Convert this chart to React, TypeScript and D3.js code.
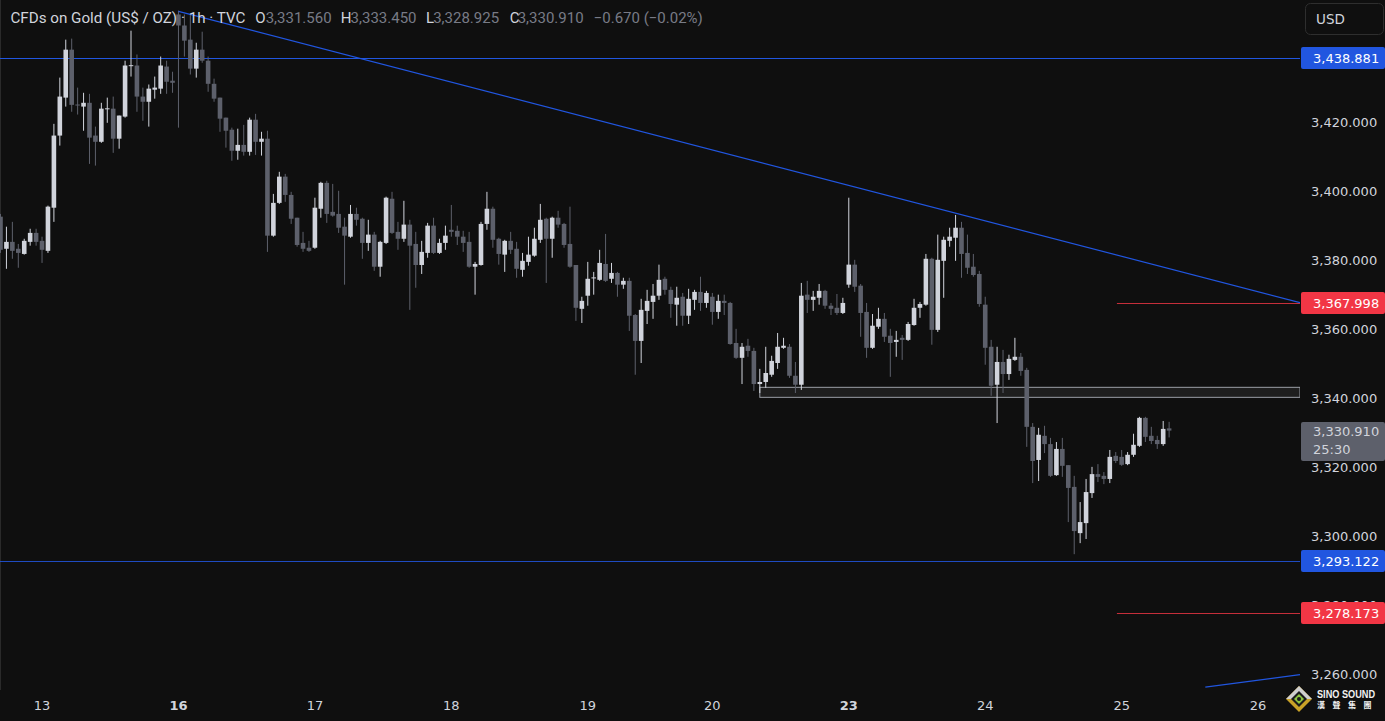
import * as React from "react";
import * as d3 from "d3";

// hourly candles, XAUUSD (TVC), 12 Jun -> 25 Jun
const opens = [
  3392.9, 3383.6, 3385.6, 3383.6, 3382.1, 3385.6, 3388.2, 3385.9, 3383.0, 3395.5,
  3416.4, 3427.4, 3441.3, 3425.4, 3424.8, 3425.9, 3416.4, 3414.6, 3424.2, 3424.2,
  3415.5, 3421.9, 3436.7, 3436.7, 3427.7, 3426.2, 3429.7, 3430.0, 3436.4, 3432.3,
  3451.5, 3448.3, 3444.2, 3435.8, 3441.3, 3438.1, 3431.4, 3427.4, 3421.6, 3418.1,
  3412.0, 3413.7, 3411.7, 3421.0, 3414.6, 3415.5, 3387.4, 3396.9, 3404.5, 3399.2,
  3392.6, 3385.3, 3383.9, 3383.9, 3395.2, 3402.7, 3394.3, 3393.7, 3390.0, 3387.1,
  3393.7, 3392.3, 3385.3, 3387.7, 3378.4, 3385.3, 3398.1, 3388.5, 3386.5, 3390.6,
  3385.0, 3378.9, 3382.4, 3390.3, 3382.4, 3385.3, 3389.1, 3388.8, 3387.1, 3385.6,
  3378.4, 3378.9, 3390.8, 3395.2, 3386.5, 3381.9, 3385.9, 3383.6, 3377.5, 3379.8,
  3381.6, 3386.2, 3392.3, 3386.5, 3392.6, 3390.8, 3385.0, 3378.9, 3366.2, 3370.0,
  3375.2, 3374.6, 3379.2, 3374.9, 3376.6, 3373.2, 3374.3, 3364.4, 3356.9, 3365.6,
  3368.2, 3370.0, 3374.9, 3371.7, 3367.4, 3369.7, 3364.2, 3368.8, 3371.1, 3367.9,
  3369.7, 3365.3, 3368.5, 3367.9, 3356.3, 3352.0, 3355.5, 3354.0, 3344.4, 3345.0,
  3347.1, 3350.5, 3354.9, 3355.2, 3346.8, 3344.2, 3370.3, 3368.8, 3369.4, 3371.4,
  3367.1, 3366.5, 3365.0, 3373.2, 3379.0, 3372.9, 3365.3, 3354.9, 3361.0, 3363.3,
  3358.4, 3356.6, 3357.8, 3357.2, 3361.5, 3366.5, 3367.4, 3380.7, 3360.1, 3380.1,
  3385.9, 3386.8, 3389.7, 3382.4, 3378.4, 3376.3, 3367.4, 3355.2, 3344.2, 3350.8,
  3347.3, 3351.4, 3352.3, 3348.5, 3332.0, 3322.4, 3329.4, 3327.0, 3318.0, 3325.6,
  3320.9, 3314.6, 3301.2, 3304.1, 3312.8, 3318.3, 3317.8, 3316.9, 3323.6, 3323.3,
  3321.2, 3323.9, 3326.5, 3334.6, 3329.4, 3328.2, 3327.0, 3331.56,
];

const highs = [
  3393.7, 3390.0, 3391.4, 3385.0, 3386.5, 3389.4, 3389.4, 3387.1, 3396.1, 3419.8,
  3433.2, 3444.2, 3444.5, 3430.3, 3428.8, 3428.5, 3419.0, 3425.9, 3427.4, 3427.7,
  3422.2, 3438.1, 3446.8, 3439.9, 3430.3, 3431.2, 3433.5, 3439.3, 3438.1, 3434.9,
  3452.6, 3451.5, 3451.5, 3443.3, 3446.5, 3439.3, 3432.9, 3427.4, 3421.6, 3418.7,
  3418.4, 3419.5, 3421.6, 3422.7, 3417.5, 3417.8, 3399.5, 3405.9, 3405.3, 3400.1,
  3392.6, 3388.5, 3385.9, 3398.4, 3403.0, 3403.3, 3402.4, 3400.4, 3392.6, 3396.3,
  3395.5, 3392.6, 3392.0, 3388.5, 3385.9, 3398.7, 3400.1, 3391.4, 3397.5, 3392.0,
  3388.5, 3385.9, 3391.1, 3392.6, 3386.5, 3390.3, 3396.3, 3390.3, 3388.8, 3388.5,
  3379.8, 3391.4, 3400.1, 3395.8, 3386.8, 3386.2, 3388.5, 3385.6, 3382.4, 3387.1,
  3389.7, 3396.6, 3392.6, 3392.9, 3394.6, 3391.1, 3395.8, 3378.9, 3369.7, 3379.8,
  3376.9, 3383.3, 3387.9, 3379.5, 3376.9, 3375.2, 3375.2, 3364.7, 3369.1, 3371.7,
  3373.4, 3379.0, 3375.5, 3372.6, 3372.6, 3370.8, 3372.0, 3371.7, 3375.5, 3371.4,
  3370.8, 3370.3, 3370.3, 3368.2, 3360.4, 3356.3, 3357.5, 3354.9, 3348.8, 3355.2,
  3352.6, 3359.2, 3357.8, 3356.0, 3350.8, 3373.7, 3374.3, 3371.4, 3373.4, 3371.7,
  3367.9, 3370.5, 3369.4, 3398.4, 3380.4, 3373.4, 3367.9, 3364.7, 3366.5, 3365.0,
  3360.4, 3359.8, 3358.6, 3362.4, 3369.1, 3368.2, 3382.1, 3381.0, 3387.7, 3387.1,
  3389.7, 3393.4, 3391.4, 3387.7, 3382.1, 3377.2, 3369.7, 3357.2, 3355.2, 3354.3,
  3352.9, 3357.8, 3353.4, 3349.1, 3333.1, 3331.7, 3332.3, 3328.8, 3327.6, 3328.8,
  3320.9, 3317.8, 3310.2, 3316.9, 3320.4, 3321.2, 3318.9, 3325.3, 3324.7, 3325.3,
  3324.7, 3330.0, 3334.9, 3334.9, 3332.0, 3329.4, 3333.7, 3333.45,
];

const lows = [
  3382.4, 3377.8, 3380.7, 3378.1, 3381.9, 3384.5, 3384.5, 3379.5, 3382.4, 3391.4,
  3413.5, 3424.8, 3423.3, 3422.5, 3417.8, 3408.2, 3407.7, 3414.3, 3420.1, 3411.4,
  3412.6, 3421.6, 3433.5, 3423.3, 3420.7, 3419.0, 3427.1, 3428.5, 3428.5, 3428.8,
  3418.7, 3439.3, 3434.1, 3433.2, 3437.5, 3429.1, 3426.2, 3417.5, 3412.9, 3409.1,
  3409.4, 3410.6, 3410.6, 3410.8, 3410.6, 3382.7, 3387.1, 3396.6, 3397.2, 3390.8,
  3384.2, 3382.7, 3382.7, 3383.6, 3392.6, 3391.1, 3392.9, 3388.2, 3373.2, 3386.8,
  3390.3, 3380.7, 3383.0, 3377.2, 3375.5, 3385.0, 3387.9, 3383.3, 3385.6, 3365.9,
  3372.3, 3376.3, 3381.0, 3382.1, 3382.1, 3383.3, 3387.1, 3384.7, 3382.7, 3378.1,
  3370.3, 3378.7, 3389.1, 3383.9, 3379.0, 3376.9, 3382.1, 3375.2, 3375.5, 3378.7,
  3381.3, 3385.3, 3373.7, 3381.0, 3389.7, 3383.9, 3378.1, 3362.7, 3362.1, 3367.1,
  3370.3, 3374.3, 3374.0, 3373.7, 3369.7, 3372.0, 3359.8, 3347.1, 3350.5, 3361.8,
  3363.3, 3368.8, 3370.3, 3363.6, 3361.3, 3361.3, 3361.8, 3365.9, 3365.6, 3366.5,
  3361.6, 3363.3, 3364.4, 3355.8, 3351.7, 3344.4, 3352.3, 3342.4, 3341.8, 3343.3,
  3346.5, 3348.8, 3354.6, 3346.2, 3341.8, 3342.7, 3365.0, 3365.6, 3367.4, 3366.2,
  3364.4, 3364.4, 3364.7, 3372.3, 3371.1, 3358.1, 3352.0, 3354.6, 3360.4, 3356.6,
  3346.5, 3352.3, 3351.4, 3356.9, 3361.3, 3363.6, 3367.1, 3355.8, 3359.5, 3369.4,
  3384.2, 3380.1, 3375.2, 3376.3, 3375.5, 3366.8, 3350.0, 3341.0, 3333.1, 3341.8,
  3345.6, 3351.1, 3346.8, 3326.2, 3315.7, 3316.3, 3324.4, 3317.5, 3317.8, 3317.5,
  3304.4, 3295.1, 3298.3, 3299.5, 3311.4, 3316.0, 3315.4, 3315.7, 3321.5, 3320.7,
  3320.9, 3323.3, 3326.2, 3327.6, 3327.0, 3325.6, 3326.5, 3328.925,
];

const closes = [
  3383.3, 3385.6, 3383.0, 3382.4, 3385.9, 3388.2, 3385.6, 3383.3, 3395.8, 3416.4,
  3427.7, 3441.3, 3425.3, 3425.2, 3425.9, 3415.8, 3414.6, 3424.2, 3424.3, 3415.5,
  3422.2, 3436.7, 3436.8, 3427.7, 3426.2, 3430.0, 3430.3, 3436.7, 3432.0, 3431.7,
  3448.3, 3443.9, 3435.8, 3441.3, 3438.1, 3431.4, 3427.1, 3421.3, 3417.8, 3412.0,
  3413.7, 3411.7, 3421.0, 3414.6, 3415.5, 3387.4, 3396.9, 3404.5, 3399.2, 3392.3,
  3384.7, 3383.6, 3383.0, 3395.5, 3402.7, 3393.7, 3393.2, 3389.7, 3387.4, 3393.7,
  3392.0, 3385.3, 3387.7, 3378.4, 3385.6, 3398.4, 3388.2, 3386.5, 3390.6, 3384.5,
  3378.9, 3382.7, 3390.3, 3382.4, 3385.3, 3387.4, 3388.5, 3387.1, 3385.3, 3378.4,
  3379.2, 3390.8, 3395.2, 3386.2, 3382.1, 3385.9, 3383.3, 3377.8, 3380.1, 3381.9,
  3386.5, 3392.0, 3386.5, 3392.6, 3390.6, 3384.7, 3378.4, 3366.5, 3368.5, 3374.9,
  3375.3, 3379.5, 3374.3, 3376.6, 3373.2, 3374.3, 3364.2, 3356.9, 3365.9, 3368.5,
  3370.0, 3374.6, 3371.7, 3367.6, 3369.4, 3364.2, 3369.1, 3371.1, 3367.9, 3370.8,
  3365.3, 3368.5, 3367.9, 3356.0, 3352.0, 3355.2, 3354.0, 3344.4, 3345.0, 3347.6,
  3351.1, 3355.2, 3355.5, 3346.8, 3344.2, 3370.0, 3368.8, 3369.7, 3371.4, 3367.1,
  3366.2, 3365.0, 3367.9, 3379.0, 3372.6, 3365.0, 3354.9, 3361.3, 3363.3, 3358.1,
  3356.3, 3357.2, 3357.2, 3361.8, 3366.5, 3367.6, 3380.7, 3360.1, 3380.4, 3386.2,
  3387.1, 3389.7, 3382.1, 3378.1, 3376.0, 3367.6, 3354.9, 3343.9, 3350.8, 3347.3,
  3351.7, 3352.3, 3348.2, 3332.0, 3322.1, 3329.7, 3327.0, 3317.8, 3325.6, 3320.7,
  3314.3, 3301.8, 3304.4, 3313.1, 3318.3, 3317.5, 3316.9, 3323.3, 3322.1, 3321.0,
  3323.9, 3326.8, 3334.6, 3329.1, 3327.9, 3327.0, 3331.4, 3330.91,
];

// bar index where each session starts, and its label
const dayStarts = [7, 30, 53, 76, 99, 120, 143, 166, 189, 212];
const dayLabels = ["13", "16", "17", "18", "19", "20", "23", "24", "25", "26"];
const boldDays = ["16", "23"];

const priceTicks = [3260, 3280, 3300, 3320, 3340, 3360, 3380, 3400, 3420];

// drawings
const resistance = 3438.881;
const support = 3293.122;
const rayLevels = [3367.998, 3278.173];
const rayStart = 188.2;
const zoneTop = 3343.45;
const zoneBottom = 3340.55;
const zoneStart = 128;
const trendA = [[30, 3452.4], [219.06, 3368.0]];
const trendB = [[203.1, 3256.6], [219.06, 3260.2]];

const lastPrice = 3330.91;
const countdown = "25:30";

const W = 1385;
const H = 721;
const PANE_R = 1300;

const UP = "#d1d4dc";
const DOWN = "#5d606b";
const BLUE = "#2156e0";
const RED = "#f23645";
const TXT = "#d1d4dc";
const AXIS_FONT = "'DejaVu Sans', sans-serif";
const HEAD_FONT = "Roboto, 'Noto Sans', sans-serif";

const fmt = d3.format(",.3f");

const App: React.FC = () => {
  const x = d3.scaleLinear().domain([0, 212]).range([0.5, 1258.1]);
  const y = d3.scaleLinear().domain([resistance, support]).range([58, 561]);

  const candles = opens.map((o, i) => ({ o, h: highs[i], l: lows[i], c: closes[i], i }));

  const priceBox = (p: number, fill: string, key: string) => {
    const cy = Math.round(y(p));
    return (
      <g key={key}>
        <rect x={1301} y={cy - 11} width={84} height={22} rx={2} fill={fill} />
        <text x={1313} y={cy + 4.5} fill="#ffffff" fontSize={13} fontFamily={AXIS_FONT}>
          {fmt(p)}
        </text>
      </g>
    );
  };

  const trendPath = (pts: number[][]) =>
    d3.line()(pts.map(([i, p]) => [x(i), y(p)] as [number, number])) || "";

  return (
    <svg
      width={W}
      height={H}
      style={{ position: "absolute", left: 0, top: 0, display: "block" }}
    >
      <defs>
        <clipPath id="pane">
          <rect x={0} y={0} width={PANE_R} height={H} />
        </clipPath>
      </defs>
      <rect width={W} height={H} fill="#0f0f0f" />
      <line x1={0.5} x2={0.5} y1={0} y2={690} stroke="#2a2a2a" />

      <g clipPath="url(#pane)">
        {/* zone rectangle */}
        <rect
          x={x(zoneStart)}
          y={y(zoneTop)}
          width={PANE_R - x(zoneStart)}
          height={y(zoneBottom) - y(zoneTop)}
          fill="#1e1e1e"
          stroke="#9b9ea6"
          strokeWidth={1}
        />

        {/* level lines */}
        <line x1={0} x2={PANE_R} y1={Math.round(y(resistance)) + 0.5} y2={Math.round(y(resistance)) + 0.5} stroke={BLUE} />
        <line x1={0} x2={PANE_R} y1={Math.round(y(support)) + 0.5} y2={Math.round(y(support)) + 0.5} stroke={BLUE} strokeOpacity={0.85} />
        {rayLevels.map((p) => (
          <line
            key={p}
            x1={x(rayStart)}
            x2={PANE_R}
            y1={Math.round(y(p)) + 0.5}
            y2={Math.round(y(p)) + 0.5}
            stroke={RED}
            strokeOpacity={0.8}
          />
        ))}

        {/* candles */}
        {candles.map((d) => {
          const cx = x(d.i);
          const col = d.c >= d.o ? UP : DOWN;
          const top = y(Math.max(d.o, d.c));
          const bot = y(Math.min(d.o, d.c));
          return (
            <g key={d.i} fill={col}>
              <rect x={cx - 0.5} y={y(d.h)} width={1} height={y(d.l) - y(d.h)} />
              <rect x={cx - 2.3} y={top} width={4.6} height={Math.max(1, bot - top)} />
            </g>
          );
        })}

        {/* trend lines */}
        <path d={trendPath(trendA)} stroke={BLUE} strokeWidth={1.2} fill="none" />
        <path d={trendPath(trendB)} stroke={BLUE} strokeWidth={1.2} fill="none" />
      </g>

      {/* legend */}
      <g fontFamily={HEAD_FONT} fontSize={15}>
        <text x={10.4} y={23} fill={TXT} fontSize={15.2}>CFDs on Gold (US$ / OZ) · 1h · TVC</text>
        <text x={255.3} y={23} fill={TXT}>O</text>
        <text x={265.7} y={23} fill="#787b86">{fmt(opens[opens.length - 1])}</text>
        <text x={340.7} y={23} fill={TXT}>H</text>
        <text x={350.6} y={23} fill="#787b86">{fmt(highs[highs.length - 1])}</text>
        <text x={426.1} y={23} fill={TXT}>L</text>
        <text x={433.2} y={23} fill="#787b86">{fmt(lows[lows.length - 1])}</text>
        <text x={509.7} y={23} fill={TXT}>C</text>
        <text x={517.7} y={23} fill="#787b86">{fmt(closes[closes.length - 1])}</text>
        <text x={593.7} y={23} fill="#787b86">−0.670 (−0.02%)</text>
      </g>

      {/* price axis */}
      <g fontFamily={AXIS_FONT} fontSize={13} fill={TXT}>
        {priceTicks.map((p) => (
          <text key={p} x={1311} y={y(p) + 3.5}>
            {fmt(p)}
          </text>
        ))}
      </g>
      {priceBox(resistance, BLUE, "r")}
      {priceBox(rayLevels[0], RED, "a")}
      {priceBox(support, BLUE, "s")}
      {priceBox(rayLevels[1], RED, "b")}
      <g>
        <rect x={1301} y={Math.round(y(lastPrice)) - 9} width={84} height={39} rx={2} fill="#5d606b" />
        <text x={1313} y={Math.round(y(lastPrice)) + 5} fill={TXT} fontSize={13} fontFamily={AXIS_FONT}>
          {fmt(lastPrice)}
        </text>
        <text x={1313} y={Math.round(y(lastPrice)) + 23} fill={TXT} fontSize={13} fontFamily={AXIS_FONT}>
          {countdown}
        </text>
      </g>

      {/* currency button */}
      <rect x={1305.5} y={3.5} width={78} height={31} rx={5} fill="none" stroke="#2e2e2e" />
      <text x={1316} y={23.5} fill={TXT} fontSize={13.5} fontFamily={AXIS_FONT}>USD</text>

      {/* time axis */}
      <g fontFamily={AXIS_FONT} fontSize={13} fill={TXT} textAnchor="middle">
        {dayStarts.map((s, k) => (
          <text key={s} x={x(s)} y={710} fontWeight={boldDays.includes(dayLabels[k]) ? "bold" : "normal"}>
            {dayLabels[k]}
          </text>
        ))}
      </g>

      {/* watermark logo */}
      <g transform="translate(1299,699)">
        <polygon points="0,-13 13,0 0,13 -13,0" fill="#c9a227" />
        <polygon points="0,-13 13,0 -13,0" fill="#cfcfcf" />
        <polygon points="0,-8 8,0 0,8 -8,0" fill="#1b1b1b" />
        <polygon points="0,-5 5,0 0,5 -5,0" fill="#8dc63f" />
        <circle r={2} fill="#1b1b1b" />
      </g>
      <text x={1317} y={697.5} fill="#f2f2f2" fontSize={10} fontWeight="bold" textLength={58} lengthAdjust="spacingAndGlyphs" fontFamily="'Liberation Sans', Arial, sans-serif">
        SINO SOUND
      </text>
      <text x={1317} y={707.5} fill="#f2f2f2" fontSize={8} fontWeight="bold" letterSpacing={7.5} fontFamily="'Noto Sans CJK TC', sans-serif">
        漢聲集團
      </text>
    </svg>
  );
};

export default App;
